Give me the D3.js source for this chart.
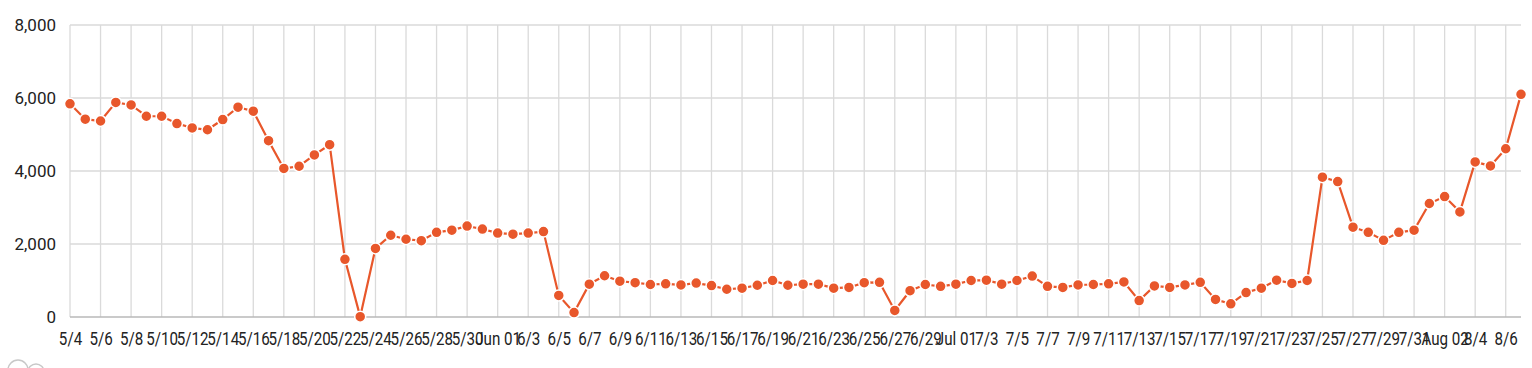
<!DOCTYPE html>
<html>
<head>
<meta charset="utf-8">
<script src="https://cdn.jsdelivr.net/npm/d3@7"></script>
<style>
  body { margin: 0; background: #fff; }
  svg { display: block; font-family: Roboto, "Noto Sans", sans-serif; }
</style>
</head>
<body>
<div id="chart"></div>
<script>
const dates = [
  '5/4','5/5','5/6','5/7','5/8','5/9','5/10','5/11','5/12','5/13','5/14','5/15','5/16','5/17',
  '5/18','5/19','5/20','5/21','5/22','5/23','5/24','5/25','5/26','5/27','5/28','5/29','5/30','5/31',
  '6/1','6/2','6/3','6/4','6/5','6/6','6/7','6/8','6/9','6/10','6/11','6/12','6/13','6/14','6/15',
  '6/16','6/17','6/18','6/19','6/20','6/21','6/22','6/23','6/24','6/25','6/26','6/27','6/28','6/29','6/30',
  '7/1','7/2','7/3','7/4','7/5','7/6','7/7','7/8','7/9','7/10','7/11','7/12','7/13','7/14','7/15',
  '7/16','7/17','7/18','7/19','7/20','7/21','7/22','7/23','7/24','7/25','7/26','7/27','7/28','7/29','7/30','7/31',
  '8/1','8/2','8/3','8/4','8/5','8/6','8/7'
];

const values = [
  5840, 5420, 5370, 5880, 5810, 5500, 5500, 5300, 5180, 5130, 5410, 5750, 5640, 4830,
  4070, 4130, 4440, 4720, 1580, 10, 1880, 2240, 2130, 2090, 2320, 2380, 2490, 2410,
  2300, 2270, 2300, 2340, 590, 120, 900, 1130, 980, 940, 890, 910, 880, 930, 860,
  760, 790, 870, 1000, 870, 900, 900, 790, 810, 940, 950, 180, 720, 890, 840,
  900, 1000, 1010, 900, 1000, 1120, 840, 810, 880, 890, 910, 960, 450, 850, 810,
  880, 950, 480, 360, 670, 790, 1010, 920, 1000, 3830, 3710, 2460, 2320, 2100, 2320, 2380,
  3110, 3300, 2880, 4250, 4140, 4610, 6100
];

// one tick every other day, the first tick of a month gets the month name
const tickDates = dates.filter((d, i) => i % 2 === 0 && i < 95);
const tickLabels = [
  '5/4','5/6','5/8','5/10','5/12','5/14','5/16','5/18','5/20','5/22','5/24','5/26','5/28','5/30',
  'Jun 01','6/3','6/5','6/7','6/9','6/11','6/13','6/15','6/17','6/19','6/21','6/23','6/25','6/27','6/29',
  'Jul 01','7/3','7/5','7/7','7/9','7/11','7/13','7/15','7/17','7/19','7/21','7/23','7/25','7/27','7/29','7/31',
  'Aug 02','8/4','8/6'
];

const yTicks = [0, 2000, 4000, 6000, 8000];

const W = 1532, H = 368;
const m = { left: 70, right: 1521, top: 25, bottom: 317 };
const color = '#e8572b';

const svg = d3.select('#chart').append('svg')
  .attr('width', W)
  .attr('height', H);

const x = d3.scalePoint().domain(dates).range([m.left, m.right]);
const y = d3.scaleLinear().domain([0, 8000]).range([m.bottom, m.top]);

// grid
svg.append('g')
  .selectAll('line')
  .data(tickDates)
  .join('line')
  .attr('x1', d => x(d)).attr('x2', d => x(d))
  .attr('y1', m.top).attr('y2', m.bottom)
  .attr('stroke', '#dadada')
  .attr('stroke-width', 1.3);

svg.append('g')
  .selectAll('line')
  .data(yTicks.filter(t => t > 0))
  .join('line')
  .attr('x1', m.left).attr('x2', m.right)
  .attr('y1', d => y(d)).attr('y2', d => y(d))
  .attr('stroke', '#dadada')
  .attr('stroke-width', 1.3);

svg.append('line')
  .attr('x1', m.left).attr('x2', m.right)
  .attr('y1', y(0)).attr('y2', y(0))
  .attr('stroke', '#b8b8b8')
  .attr('stroke-width', 1.3);

// y axis
const yAxis = svg.append('g')
  .attr('transform', `translate(${m.left},0)`)
  .call(d3.axisLeft(y).tickValues(yTicks).tickFormat(d3.format(',')).tickSize(0).tickPadding(14));
yAxis.select('.domain').remove();
yAxis.selectAll('text')
  .attr('font-size', 17)
  .attr('font-family', 'Roboto, sans-serif')
  .attr('fill', '#222');

// x axis
const xAxis = svg.append('g')
  .attr('transform', `translate(0,${m.bottom})`)
  .call(d3.axisBottom(x).tickValues(tickDates)
    .tickFormat((d, i) => tickLabels[i]).tickSize(0).tickPadding(15));
xAxis.select('.domain').remove();
xAxis.selectAll('text')
  .attr('font-size', 18.5)
  .attr('font-family', 'Roboto, sans-serif')
  .attr('fill', '#222')
  .attr('transform', 'scale(0.82,1)');

// series
const line = d3.line()
  .x((d, i) => x(dates[i]))
  .y(d => y(d));

svg.append('path')
  .datum(values)
  .attr('d', line)
  .attr('fill', 'none')
  .attr('stroke', color)
  .attr('stroke-width', 2.2);

svg.append('g')
  .selectAll('circle')
  .data(values)
  .join('circle')
  .attr('cx', (d, i) => x(dates[i]))
  .attr('cy', d => y(d))
  .attr('r', 5.5)
  .attr('fill', color)
  .attr('stroke', '#fff')
  .attr('stroke-width', 1.5);

// faint logo remnant in the corner
const logo = svg.append('g').attr('fill', 'none').attr('stroke', '#c8c8c8').attr('stroke-width', 1.5);
logo.append('circle').attr('cx', 18).attr('cy', 370).attr('r', 10);
logo.append('circle').attr('cx', 36).attr('cy', 372).attr('r', 8);
</script>
</body>
</html>
